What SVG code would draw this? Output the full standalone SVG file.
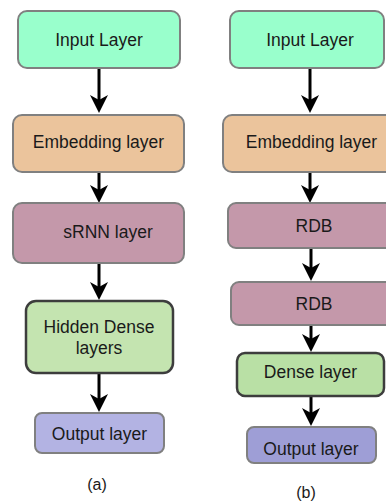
<svg xmlns="http://www.w3.org/2000/svg" width="386" height="501" viewBox="0 0 386 501">
<defs>
<style>
.box{stroke:#808080;stroke-width:2}
.dark{stroke:#3d3d3d;stroke-width:2.5}
.t{font-family:"Liberation Sans",Arial,sans-serif;font-size:17.5px;fill:#1a1a1a;text-anchor:middle}
.cap{font-family:"Liberation Sans",Arial,sans-serif;font-size:16px;fill:#1a1a1a;text-anchor:middle}
.in{fill:#99ffcc}.emb{fill:#ebc49c}.rnn{fill:#c498aa}.hid{fill:#c4e4b0}.den{fill:#b9e0a5}.outa{fill:#b3b3e3}.outb{fill:#9e9ed6}
.c{stroke:#000;stroke-width:3;fill:none;marker-end:url(#ah)}
</style>
<marker id="ah" viewBox="0 0 18 18" refX="8" refY="9" markerWidth="18" markerHeight="18" markerUnits="userSpaceOnUse" orient="auto">
<path d="M0,0 L18,9 L0,18 L5,9 Z" fill="#000"/>
</marker>
</defs>
<g id="connectors">
<line class="c" x1="99" y1="68" x2="99" y2="103"/>
<line class="c" x1="99" y1="172" x2="99" y2="193"/>
<line class="c" x1="99" y1="263" x2="99" y2="290"/>
<line class="c" x1="99" y1="373" x2="99" y2="402"/>
<line class="c" x1="310" y1="68" x2="310" y2="103"/>
<line class="c" x1="310" y1="172" x2="310" y2="193"/>
<line class="c" x1="311" y1="248" x2="311" y2="271"/>
<line class="c" x1="311" y1="325" x2="311" y2="342"/>
<line class="c" x1="311" y1="396" x2="311" y2="416"/>
</g>
<g id="in_a"><rect class="box in" x="18" y="11" width="162" height="57" rx="9"/><text class="t" x="99" y="46">Input Layer</text></g>
<g id="emb_a"><rect class="box emb" x="13" y="115" width="171" height="57" rx="9"/><text class="t" x="98.5" y="148">Embedding layer</text></g>
<g id="srnn_a"><rect class="box rnn" x="13" y="203" width="171" height="60" rx="9"/><text class="t" x="108" y="238">sRNN layer</text></g>
<g id="hid_a"><rect class="dark hid" x="26" y="301" width="147" height="72" rx="10"/><text class="t" x="99" y="333">Hidden Dense</text><text class="t" x="99" y="354">layers</text></g>
<g id="out_a"><rect class="box outa" x="35" y="413" width="129" height="40" rx="7"/><text class="t" x="99.5" y="440">Output layer</text></g>
<g id="cap_a"><text class="cap" x="97" y="490">(a)</text></g>
<g id="in_b"><rect class="box in" x="230" y="11" width="154" height="57" rx="9"/><text class="t" x="310" y="46">Input Layer</text></g>
<g id="emb_b"><rect class="box emb" x="223" y="115" width="177" height="57" rx="9"/><text class="t" x="311.5" y="148">Embedding layer</text></g>
<g id="rdb1_b"><rect class="box rnn" x="228" y="203" width="172" height="45" rx="8"/><text class="t" x="314" y="232">RDB</text></g>
<g id="rdb2_b"><rect class="box rnn" x="231" y="282" width="166" height="43" rx="8"/><text class="t" x="314" y="310">RDB</text></g>
<g id="dense_b"><rect class="dark den" x="237" y="353" width="147" height="43" rx="8"/><text class="t" x="310.5" y="378">Dense layer</text></g>
<g id="out_b"><rect class="box outb" x="247" y="427" width="129" height="36" rx="7"/><text class="t" x="311" y="455">Output layer</text></g>
<g id="cap_b"><text class="cap" x="306" y="498">(b)</text></g>
</svg>
